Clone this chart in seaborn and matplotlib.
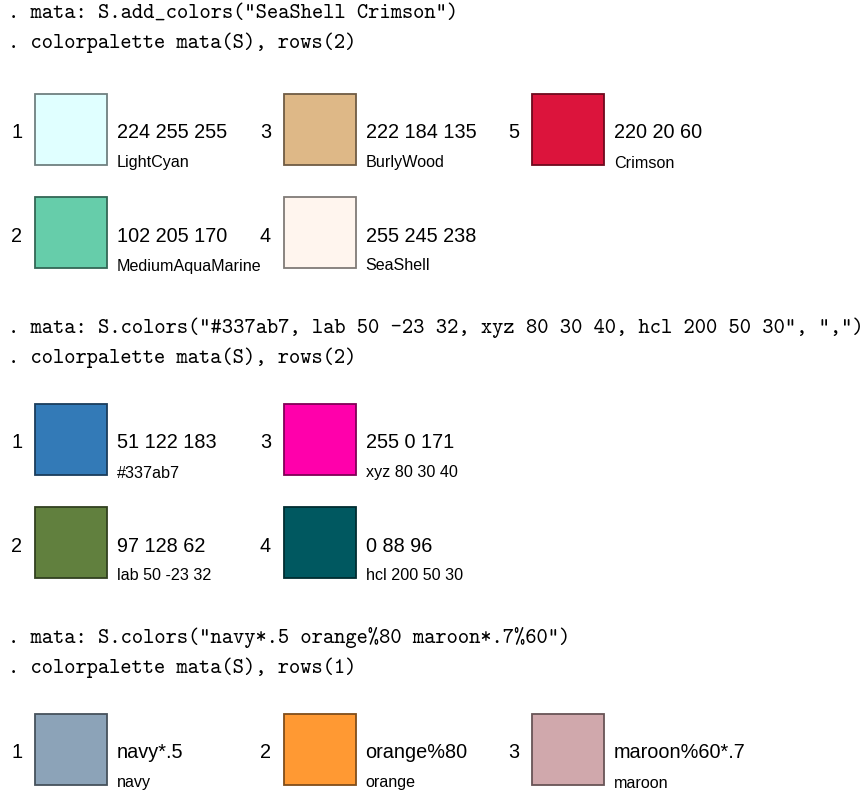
# Stata-style colorpalette listings redrawn with matplotlib/seaborn
import matplotlib
matplotlib.use("Agg")
import matplotlib.pyplot as plt
from matplotlib.patches import Rectangle
import seaborn as sns

# panel 1
cmd1 = ['. mata: S.add_colors("SeaShell Crimson")', '. colorpalette mata(S), rows(2)']
rgb1 = [(224, 255, 255), (102, 205, 170), (222, 184, 135), (255, 245, 238), (220, 20, 60)]
val1 = ["224 255 255", "102 205 170", "222 184 135", "255 245 238", "220 20 60"]
name1 = ["LightCyan", "MediumAquaMarine", "BurlyWood", "SeaShell", "Crimson"]
rows1 = 2

# panel 2
cmd2 = ['. mata: S.colors("#337ab7, lab 50 -23 32, xyz 80 30 40, hcl 200 50 30", ",")',
        '. colorpalette mata(S), rows(2)']
rgb2 = [(51, 122, 183), (97, 128, 62), (255, 0, 171), (0, 88, 96)]
val2 = ["51 122 183", "97 128 62", "255 0 171", "0 88 96"]
name2 = ["#337ab7", "lab 50 -23 32", "xyz 80 30 40", "hcl 200 50 30"]
rows2 = 2

# panel 3
cmd3 = ['. mata: S.colors("navy*.5 orange%80 maroon*.7%60")', '. colorpalette mata(S), rows(1)']
rgb3 = [(140, 163, 184), (255, 153, 51), (208, 168, 172)]
val3 = ["navy*.5", "orange%80", "maroon%60*.7"]
name3 = ["navy", "orange", "maroon"]
rows3 = 1

panels = [
    (cmd1, rgb1, val1, name1, rows1, 13, 94),
    (cmd2, rgb2, val2, name2, rows2, 328, 404),
    (cmd3, rgb3, val3, name3, rows3, 638, 714),
]

sns.set_theme(style="white")
plt.rcParams["font.family"] = ["Liberation Sans", "DejaVu Sans"]
plt.rcParams["text.color"] = "black"

fig = plt.figure(figsize=(8.67, 7.91), dpi=100)
ax = fig.add_axes([0, 0, 1, 1])
ax.set_xlim(0, 867)
ax.set_ylim(791, 0)
ax.axis("off")

box_w, box_h = 72, 71
col_step, row_step = 248.5, 103

for cmds, rgbs, vals, names, rows, y_cmd, y_box in panels:
    for k, line in enumerate(cmds):
        ax.text(8, y_cmd + 30 * k, line, family="cmtt10", fontsize=15.45,
                ha="left", va="center", color="black")
    for i, (c, v, n) in enumerate(zip(rgbs, vals, names)):
        col, row = i // rows, i % rows
        x0 = 35 + col_step * col
        y0 = y_box + row_step * row
        fill = tuple(ch / 255 for ch in c)
        edge = tuple(ch / 255 * 0.5 for ch in c)
        ax.add_patch(Rectangle((x0, y0), box_w, box_h, facecolor=fill,
                               edgecolor=edge, linewidth=1.3))
        ax.text(x0 - 18, y0 + 39, str(i + 1), fontsize=14.3, ha="center", va="center")
        ax.text(x0 + 82, y0 + 39, v, fontsize=14.3, ha="left", va="center")
        ax.text(x0 + 82, y0 + 69, n, fontsize=11.6, ha="left", va="center")

fig.savefig("out.png", dpi=100, facecolor="white")
